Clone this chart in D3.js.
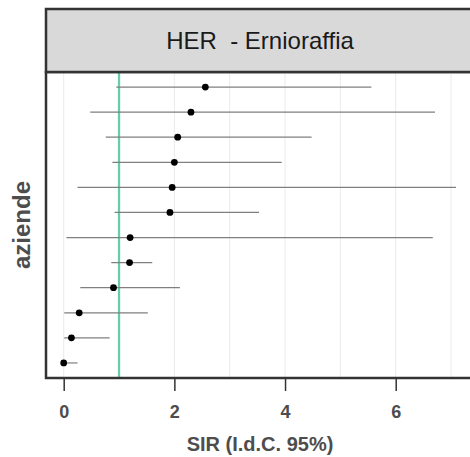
<!DOCTYPE html>
<html>
<head>
<meta charset="utf-8">
<script src="https://d3js.org/d3.v7.min.js"></script>
<style>
  body { margin: 0; background: #fff; }
  text { font-family: "Liberation Sans", Arial, sans-serif; }
</style>
</head>
<body>
<script>
// aziende, top to bottom
var aziende = ["A1","A2","A3","A4","A5","A6","A7","A8","A9","A10","A11","A12"];
var sir   = [2.56, 2.30, 2.06, 2.00, 1.96, 1.92, 1.20, 1.19, 0.90, 0.28, 0.14, 0.00];
var lower = [0.95, 0.48, 0.76, 0.88, 0.25, 0.92, 0.05, 0.86, 0.30, 0.01, 0.01, 0.00];
var upper = [5.56, 6.71, 4.48, 3.94, 7.09, 3.53, 6.67, 1.60, 2.10, 1.52, 0.83, 0.25];
var xTicks = [0, 2, 4, 6];
var minorTicks = [1, 3, 5, 7];
var refLine = 1;
var stripTitle = "HER  - Ernioraffia";
var xTitle = "SIR (I.d.C. 95%)";
var yTitle = "aziende";

var width = 470, height = 457;
var panelLeft = 46, panelRight = 474, panelTop = 72, panelBottom = 378;
var stripTop = 9;

var data = aziende.map(function(a, i){
    return {az: a, sir: sir[i], lo: lower[i], hi: upper[i]};
});

var svg = d3.select("body").append("svg")
    .attr("width", width)
    .attr("height", height);

var x = d3.scaleLinear().domain([0, 6]).range([63.7, 395.7]);
var y = d3.scalePoint().domain(aziende).range([panelTop, panelBottom]).padding(0.6);

// panel background + grid
svg.append("rect")
    .attr("x", panelLeft).attr("y", panelTop)
    .attr("width", panelRight - panelLeft).attr("height", panelBottom - panelTop)
    .attr("fill", "#fff");

svg.append("g").selectAll("line")
    .data(xTicks.concat(minorTicks))
    .join("line")
    .attr("x1", d => x(d)).attr("x2", d => x(d))
    .attr("y1", panelTop).attr("y2", panelBottom)
    .attr("stroke", "#ebebeb")
    .attr("stroke-width", 1);

// reference line
svg.append("line")
    .attr("x1", x(refLine)).attr("x2", x(refLine))
    .attr("y1", panelTop).attr("y2", panelBottom)
    .attr("stroke", "#66cdaa")
    .attr("stroke-width", 2.3);

// error bars
svg.append("g").selectAll("line")
    .data(data)
    .join("line")
    .attr("x1", d => x(d.lo)).attr("x2", d => x(d.hi))
    .attr("y1", d => y(d.az)).attr("y2", d => y(d.az))
    .attr("stroke", "#7f7f7f")
    .attr("stroke-width", 1.2);

// points
svg.append("g").selectAll("circle")
    .data(data)
    .join("circle")
    .attr("cx", d => x(d.sir))
    .attr("cy", d => y(d.az))
    .attr("r", 3.4)
    .attr("fill", "#000");

// panel border
svg.append("rect")
    .attr("x", panelLeft).attr("y", panelTop)
    .attr("width", panelRight - panelLeft).attr("height", panelBottom - panelTop)
    .attr("fill", "none")
    .attr("stroke", "#333")
    .attr("stroke-width", 2.5);

// strip
svg.append("rect")
    .attr("x", panelLeft).attr("y", stripTop)
    .attr("width", panelRight - panelLeft).attr("height", panelTop - stripTop)
    .attr("fill", "#d9d9d9")
    .attr("stroke", "#333")
    .attr("stroke-width", 2.5);

svg.append("text")
    .attr("x", (panelLeft + panelRight) / 2)
    .attr("y", (stripTop + panelTop) / 2)
    .attr("dy", "0.35em")
    .attr("text-anchor", "middle")
    .style("white-space", "pre")
    .style("font-size", "24px")
    .attr("fill", "#1a1a1a")
    .text(stripTitle);

// x axis
var xAxis = svg.append("g")
    .attr("transform", "translate(0," + (panelBottom + 1) + ")")
    .call(d3.axisBottom(x).tickValues(xTicks).tickFormat(d3.format("d"))
          .tickSizeInner(12).tickSizeOuter(0).tickPadding(14));
xAxis.select(".domain").remove();
xAxis.selectAll(".tick line").attr("stroke", "#333").attr("stroke-width", 1.5);
xAxis.selectAll(".tick text")
    .attr("fill", "#4d4d4d")
    .style("font-size", "18px")
    .style("font-weight", "bold")
    .style("font-family", "'Liberation Sans', Arial, sans-serif");

svg.append("text")
    .attr("x", (panelLeft + panelRight) / 2)
    .attr("y", 451)
    .attr("text-anchor", "middle")
    .style("font-size", "20px")
    .style("font-weight", "bold")
    .attr("fill", "#4d4d4d")
    .text(xTitle);

svg.append("text")
    .attr("transform", "translate(30," + ((panelTop + panelBottom) / 2) + ") rotate(-90)")
    .attr("text-anchor", "middle")
    .style("font-size", "24px")
    .style("font-weight", "bold")
    .attr("fill", "#4d4d4d")
    .text(yTitle);
</script>
</body>
</html>
